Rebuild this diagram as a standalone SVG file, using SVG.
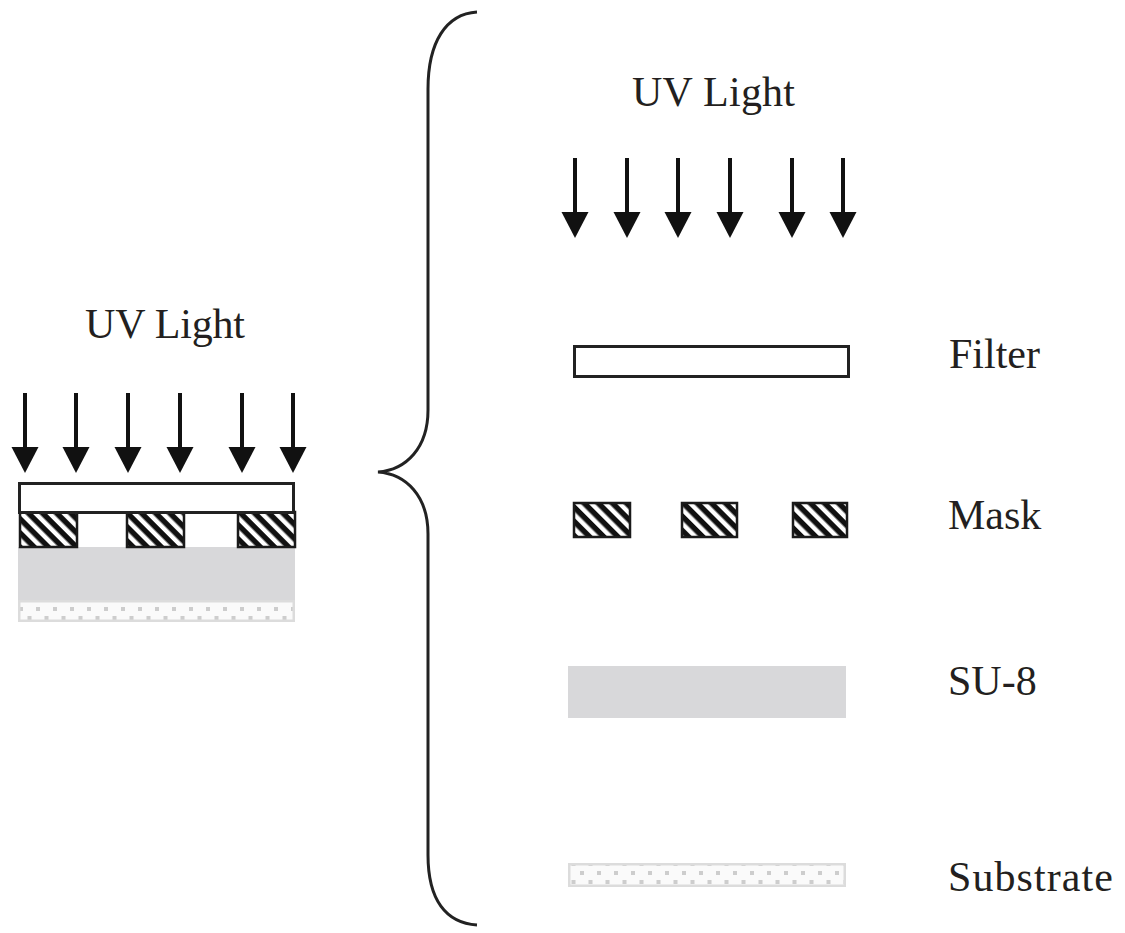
<svg xmlns="http://www.w3.org/2000/svg" width="1125" height="933" viewBox="0 0 1125 933">
<style>
  .lbl { font-family: "Liberation Serif", "Times New Roman", serif; font-size: 42px; fill: #231f20; }
  .shaft { stroke: #111; stroke-width: 4; }
  .head { fill: #111; }
  .filter { fill: #fff; stroke: #222; stroke-width: 3; }
  .mask { fill: url(#hatch); stroke: #1a1a1a; stroke-width: 2.5; }
  .su8 { fill: #d8d8da; }
  .sub { fill: url(#dots); stroke: #dcdcdc; stroke-width: 2.5; }
  .brace { fill: none; stroke: #222; stroke-width: 3; }
</style>
<defs>
  <pattern id="hatch" patternUnits="userSpaceOnUse" width="10" height="10" patternTransform="rotate(-45)">
    <rect width="10" height="10" fill="#111"/>
    <rect x="0" y="0" width="4.5" height="10" fill="#fff"/>
  </pattern>
  <pattern id="dots" patternUnits="userSpaceOnUse" x="0" y="863" width="17" height="18">
    <rect width="17" height="18" fill="#fafafa"/>
    <rect x="2" y="8" width="4" height="4" fill="#cdcdcd"/>
    <rect x="10.5" y="17" width="4" height="4" fill="#cdcdcd"/>
    <rect x="10.5" y="-1" width="4" height="4" fill="#cdcdcd"/>
  </pattern>
  <pattern id="dotsL" patternUnits="userSpaceOnUse" x="0" y="600" width="17" height="18">
    <rect width="17" height="18" fill="#fafafa"/>
    <rect x="2" y="7" width="4" height="4" fill="#cdcdcd"/>
    <rect x="10.5" y="16" width="4" height="4" fill="#cdcdcd"/>
    <rect x="10.5" y="-2" width="4" height="4" fill="#cdcdcd"/>
  </pattern>
</defs>

<g id="left-stack">
  <text class="lbl" x="85" y="338" textLength="160">UV Light</text>
  <g id="left-arrows">
    <line class="shaft" x1="25" y1="393" x2="25" y2="450"/><polygon class="head" points="11.5,447 38.5,447 25,473"/>
    <line class="shaft" x1="76" y1="393" x2="76" y2="450"/><polygon class="head" points="62.5,447 89.5,447 76,473"/>
    <line class="shaft" x1="128" y1="393" x2="128" y2="450"/><polygon class="head" points="114.5,447 141.5,447 128,473"/>
    <line class="shaft" x1="180" y1="393" x2="180" y2="450"/><polygon class="head" points="166.5,447 193.5,447 180,473"/>
    <line class="shaft" x1="242" y1="393" x2="242" y2="450"/><polygon class="head" points="228.5,447 255.5,447 242,473"/>
    <line class="shaft" x1="293" y1="393" x2="293" y2="450"/><polygon class="head" points="279.5,447 306.5,447 293,473"/>
  </g>
  <rect id="left-su8" class="su8" x="18" y="547" width="277" height="53"/>
  <rect id="left-substrate" x="19.25" y="601.25" width="274.5" height="19.5" fill="url(#dotsL)" stroke="#dcdcdc" stroke-width="2.5"/>
  <g id="left-mask">
    <rect class="mask" x="20" y="512" width="57" height="35"/>
    <rect class="mask" x="127" y="512" width="57" height="35"/>
    <rect class="mask" x="238" y="512" width="57" height="35"/>
  </g>
  <rect id="left-filter" class="filter" x="19.5" y="483.5" width="274" height="29"/>
</g>

<g id="connectors">
  <path id="brace" class="brace" d="M477,12 C446,14 428,42 428,89 L428,410 C428,448 406,470 378,472 C406,474 428,496 428,534 L428,855 C428,900 446,923 477,925"/>
</g>

<g id="uv-light">
  <text class="lbl" x="632" y="106" textLength="163">UV Light</text>
  <g id="right-arrows">
    <line class="shaft" x1="575" y1="158" x2="575" y2="215"/><polygon class="head" points="561.5,212 588.5,212 575,238"/>
    <line class="shaft" x1="627" y1="158" x2="627" y2="215"/><polygon class="head" points="613.5,212 640.5,212 627,238"/>
    <line class="shaft" x1="678" y1="158" x2="678" y2="215"/><polygon class="head" points="664.5,212 691.5,212 678,238"/>
    <line class="shaft" x1="730" y1="158" x2="730" y2="215"/><polygon class="head" points="716.5,212 743.5,212 730,238"/>
    <line class="shaft" x1="792" y1="158" x2="792" y2="215"/><polygon class="head" points="778.5,212 805.5,212 792,238"/>
    <line class="shaft" x1="843" y1="158" x2="843" y2="215"/><polygon class="head" points="829.5,212 856.5,212 843,238"/>
  </g>
</g>

<g id="filter">
  <rect class="filter" x="574.5" y="346.5" width="274" height="30"/>
  <text class="lbl" x="949" y="368">Filter</text>
</g>

<g id="mask">
  <rect class="mask" x="574" y="503" width="56" height="34"/>
  <rect class="mask" x="682" y="503" width="55" height="34"/>
  <rect class="mask" x="793" y="503" width="54" height="34"/>
  <text class="lbl" x="948" y="529">Mask</text>
</g>

<g id="su8">
  <rect class="su8" x="568" y="666" width="278" height="52"/>
  <text class="lbl" x="948" y="695">SU-8</text>
</g>

<g id="substrate">
  <rect class="sub" x="569.25" y="864.25" width="275.5" height="21.5"/>
  <text class="lbl" x="948" y="891" textLength="165">Substrate</text>
</g>
</svg>
